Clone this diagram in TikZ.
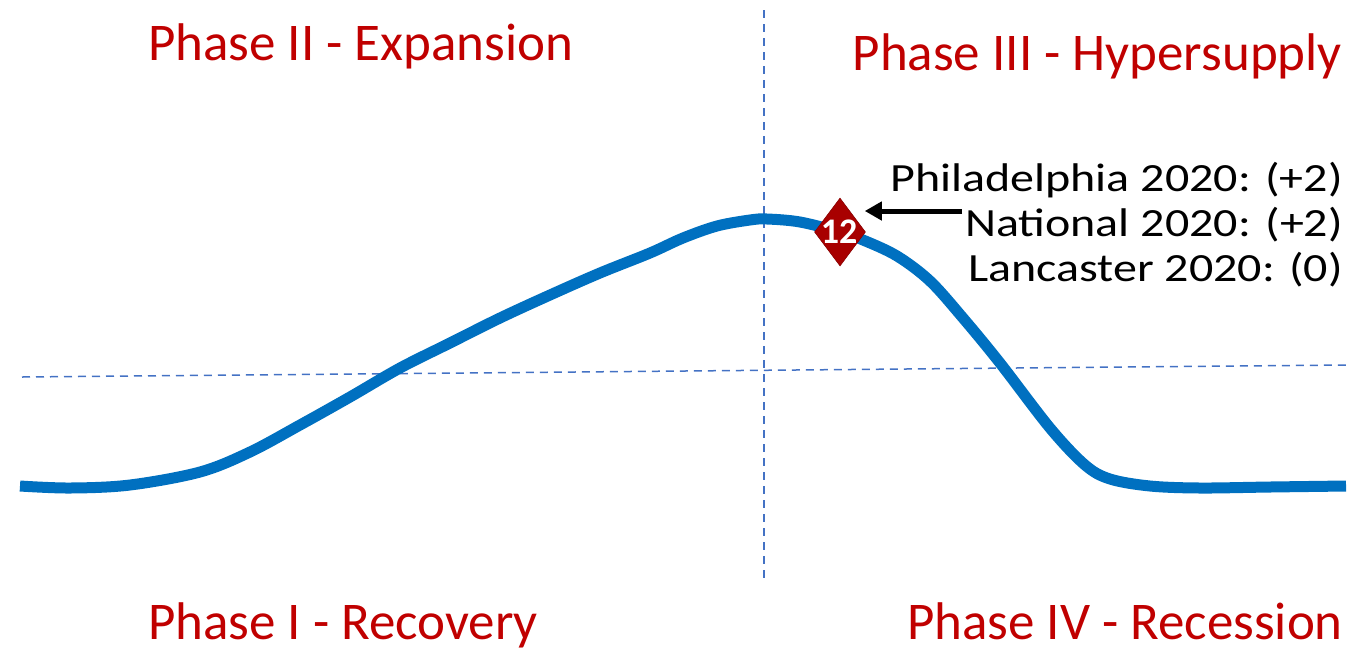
\documentclass[tikz,border=0pt]{standalone}
\usepackage{fontspec}
\usepackage{graphicx}
\setmainfont{Carlito}
\usetikzlibrary{shapes.geometric,arrows.meta}
\definecolor{phasered}{RGB}{192,0,0}
\definecolor{curveblue}{RGB}{0,112,192}
\definecolor{dashblue}{RGB}{68,114,196}
\definecolor{diared}{RGB}{168,0,0}
\newcommand{\wide}[1]{\scalebox{1.2}[1]{#1}}
\tikzset{
  phase/.style={text=phasered, font=\fontsize{53}{60}\selectfont, inner sep=0pt},
  city/.style={text=black, font=\fontsize{40}{46}\selectfont, inner sep=0pt, anchor=base east},
  guide/.style={draw=dashblue, line width=1.5pt, dash pattern=on 8pt off 6pt},
  cycle/.style={draw=curveblue, line width=11pt},
  marker/.style={diamond, fill=diared, draw=diared!80!black, line width=0.5pt, minimum width=51pt, minimum height=68pt, inner sep=0pt},
  marknum/.style={text=white, font=\fontsize{36}{40}\selectfont\bfseries, inner sep=0pt},
  pointer/.style={draw=black, line width=5pt, -{Triangle[length=17pt,width=18pt]}}
}
\begin{document}
\begin{tikzpicture}[x=1pt,y=-1pt]
\useasboundingbox (0,0) rectangle (1372,649);
% guide lines
\coordinate (hl) at (22,377);
\coordinate (hr) at (1347,365);
\coordinate (vt) at (764,10);
\coordinate (vb) at (764,578);
\draw[guide] (hl) -- (hr);
\draw[guide] (vt) -- (vb);
% cycle curve
\draw[cycle] plot[smooth, tension=0.55] coordinates {
 (20,486) (70,488) (130,485) (200,472) (250,452) (300,425) (350,397) (400,368)
 (450,343) (500,318) (550,295) (600,273) (650,253) (683,238) (717,226) (750,220)
 (767,219) (800,222) (840,232) (863,240) (897,256) (930,281) (963,318) (1000,363)
 (1050,428) (1085,465) (1110,479) (1150,486) (1200,488) (1270,487) (1346,486)};
% marker
\node[marker] (dia) at (840,232) {};
\node[marknum] (num) at (839,232) {12};
% texts
\node[phase, anchor=base west] (p2) at (148,60) {Phase II - Expansion};
\node[phase, anchor=base east] (p3) at (1342,70) {Phase III - Hypersupply};
\node[phase, anchor=base west] (p1) at (148,639) {Phase I - Recovery};
\node[phase, anchor=base east] (p4) at (1343,639) {Phase IV - Recession};
\node[city] (phl) at (1343,191) {\wide{Philadelphia 2020: (+2)}};
\node[city] (nat) at (1343,236) {\wide{National 2020: (+2)}};
\node[city] (lan) at (1343,281) {\wide{Lancaster 2020: (0)}};
% pointer
\coordinate (astart) at (962,211);
\draw[pointer, shorten >=-1pt] (astart) -- (astart -| dia.east);
\end{tikzpicture}
\end{document}
